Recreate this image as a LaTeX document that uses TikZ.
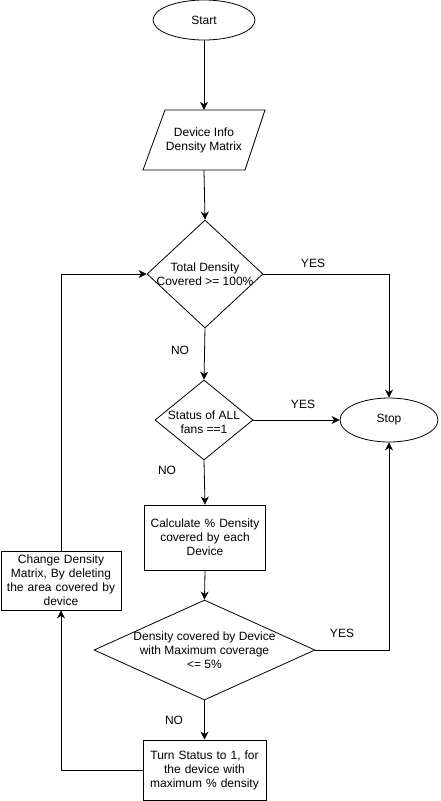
\documentclass[tikz,border=0pt]{standalone}
\usepackage{fontspec}
\setmainfont{Liberation Sans}
\usetikzlibrary{shapes.geometric,arrows.meta}
\begin{document}
\begin{tikzpicture}[x=1pt,y=-1pt,
  every node/.style={font=\fontsize{12}{14}\selectfont, inner sep=0pt},
  terminal/.style={draw, ellipse, line width=0.8pt},
  process/.style={draw, rectangle, line width=0.8pt, align=center},
  decision/.style={draw, diamond, line width=0.8pt},
  txt/.style={align=center},
  flow/.style={line width=0.8pt, -{Stealth[length=8pt,width=8pt,inset=2.5pt]}},
  plain/.style={line width=0.8pt},
  lbl/.style={font=\fontsize{12}{14}\selectfont}]
\useasboundingbox (0,0) rectangle (441,801);

% terminals
\node[terminal, minimum width=102, minimum height=40] (start) at (204,20) {Start};
\node[terminal, minimum width=98, minimum height=44] (stop) at (389,420) {Stop};

% input parallelogram
\node[minimum width=122, minimum height=60] (io) at (204,140) {};
\draw[plain] (143,170) -- (165,110) -- (265,110) -- (245,170) -- cycle;
\node[txt] at (io) {Device Info\\Density Matrix};

% decisions
\node[decision, minimum width=116, minimum height=108] (d1) at (205,274) {};
\node[txt] at (d1) {Total Density\\Covered >= 100\%};

\node[decision, minimum width=98, minimum height=80] (d2) at (204,420) {};
\node[txt] at ([yshift=-2]d2.center) {Status of ALL\\fans ==1};

\node[decision, minimum width=221, minimum height=100] (d3) at (204.5,650) {};
\node[txt] at (d3) {Density covered by Device\\with Maximum coverage\\<= 5\%};

% processes
\node[process, minimum width=121, minimum height=65, text width=115] (calc) at (205,537.5) {Calculate \% Density\\covered by each\\Device};
\node[process, minimum width=120, minimum height=59, text width=116] (chg) at (61,580.5) {Change Density\\Matrix, By deleting\\the area covered by\\device};
\node[process, minimum width=123, minimum height=60, text width=118] (turn) at (204.5,770) {Turn Status to 1, for\\the device with\\maximum \% density};

% connectors
\draw[flow] (start) -- (io.north);
\draw[flow] (io.south) -- (d1.north);
\draw[flow] (d1.south) -- (d2.north);
\draw[flow] (d2.east) -- (stop.west);
\draw[flow] (d2.south) -- (calc.north);
\draw[flow] (calc.south) -- (d3.north);
\draw[flow] (d3.south) -- (turn.north);
\draw[flow] (d1.east) -| (stop.north);
\draw[flow] (d3.east) -| (stop.south);
\draw[flow] (turn.west) -| (chg.south);
\draw[flow] (chg.north) |- (d1.west);

% branch labels
\node[lbl] at (313,263) {YES};
\node[lbl] at (180,350) {NO};
\node[lbl] at (303,404) {YES};
\node[lbl] at (167,470) {NO};
\node[lbl] at (342,633) {YES};
\node[lbl] at (174,720) {NO};
\end{tikzpicture}
\end{document}
